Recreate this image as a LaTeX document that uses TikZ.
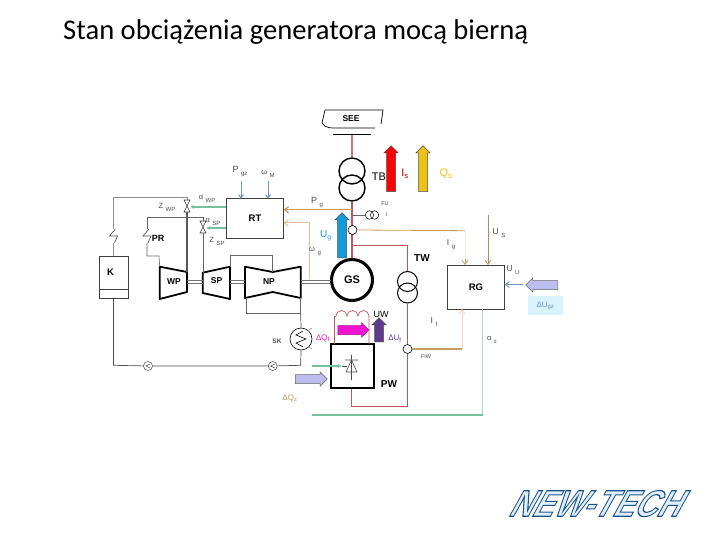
\documentclass[tikz,border=0pt]{standalone}
\usepackage{fontspec}
\setmainfont{Liberation Sans}
\newfontfamily\titlefont{Carlito}
\usetikzlibrary{shapes.arrows,arrows.meta}
\definecolor{tan}{HTML}{C89A62}
\definecolor{paletan}{HTML}{F0D9BC}
\definecolor{linered}{HTML}{C25555}
\definecolor{linegreen}{HTML}{74C29C}
\definecolor{lavender}{HTML}{BDBDEE}
\definecolor{steel}{HTML}{6F93C4}
\definecolor{fieldpink}{HTML}{F014D2}
\definecolor{fieldviolet}{HTML}{5F3A8C}
\definecolor{statorblue}{HTML}{149BD7}
\definecolor{netyellow}{HTML}{EEC214}
\newcommand{\lab}[2]{#1\hspace{2.5pt}\raisebox{-3pt}{\fontsize{6}{6}\selectfont #2}}
\tikzset{
  box/.style={draw, black!75, text=black, line width=1pt, font=\bfseries\fontsize{9.5}{10}\selectfont, inner sep=0pt},
  circ/.style={draw, black, circle, inner sep=0pt, line width=1.4pt},
  unitname/.style={font=\bfseries\fontsize{10}{11}\selectfont, inner sep=0pt},
  smalllab/.style={font=\fontsize{7.5}{8}\selectfont, black!70, inner sep=0pt},
  blockarrow/.style={single arrow, draw=black!70, line width=.5pt, inner sep=0pt, text width=0pt, text height=8.5pt, text depth=0pt, single arrow head extend=2.7pt},
  turbine/.style={draw, line width=1.8pt, fill=white, line join=round},
  valve/.pic={\draw[black!80, line width=.6pt] (-3,-6) -- (3,-6) -- (-3,6) -- (3,6) -- cycle;},
  gap/.pic={\draw[black!70, line width=.6pt] (2,-7) -- (-4,0) -- (4,0) -- (1,7);},
  pump/.pic={\draw[black!70, line width=.5pt] (0,0) circle (4.5); \draw[black!70, line width=.5pt] (2,-2) -- (-2,0) -- (2,2);}
}
\begin{document}
\begin{tikzpicture}[x=1pt,y=-1pt]
\useasboundingbox (0,0) rectangle (720,540);
\node[anchor=base west, inner sep=0pt, font=\titlefont\fontsize{28.6}{30}\selectfont] (title) at (63,40) {Stan obciążenia generatora mocą bierną};

% main blocks
\node[box, minimum width=56.6pt, minimum height=39pt] (RT) at (255,218.5) {RT};
\node[box, minimum width=56.6pt, minimum height=44pt] (RG) at (476,287) {RG};
\node[box, minimum width=29pt, minimum height=42pt] (K) at (113.5,277) {};
\node[unitname, font=\bfseries\fontsize{9.5}{10}\selectfont] (Kname) at (110.5,272.7) {K};
\node[box, black, line width=1.8pt, minimum width=43pt, minimum height=44pt] (PW) at (352.7,366) {};
\draw[black!75, line width=1pt] (K.west |- 0,289) -- (K.east |- 0,289);

% machines
\node[circ, line width=3pt, minimum size=41pt, font=\bfseries\fontsize{11}{12}\selectfont] (GS) at (352,280) {GS};
\node[circ, minimum size=26pt] (TBa) at (352,171) {};
\node[circ, minimum size=26pt] (TBb) at (352,188) {};
\node[circ, line width=1pt, minimum size=20pt] (TWa) at (407.5,281.5) {};
\node[circ, line width=1pt, minimum size=20pt] (TWb) at (407.5,293) {};
\node[unitname, font=\fontsize{11}{12}\selectfont] (TB) at (379,177) {TB};
\node[unitname] (TW) at (422,258) {TW};
\node[unitname] (PWname) at (389,384) {PW};
\node[unitname, font=\bfseries\fontsize{9}{10}\selectfont] (PR) at (158,238) {PR};
\node[font=\fontsize{9}{10}\selectfont, inner sep=0pt] (UW) at (381,314) {UW};
\node[smalllab, font=\bfseries\fontsize{6.5}{7}\selectfont] (SKname) at (277,341) {SK};

% turbines
\draw[turbine] (159.7,266.7) -- (187,272) -- (187,292) -- (159.7,299) -- cycle;
\draw[turbine] (202.7,272.7) -- (230,266.7) -- (230,299) -- (202.7,293) -- cycle;
\draw[turbine] (245,266.7) -- (272.7,272) -- (300.7,266.7) -- (300.7,298) -- (272.7,292) -- (245,298) -- cycle;
\node[unitname, font=\bfseries\fontsize{8.5}{9}\selectfont] (WP) at (174,282) {WP};
\node[unitname, font=\bfseries\fontsize{8.5}{9}\selectfont] (SP) at (216.5,281) {SP};
\node[unitname, font=\bfseries\fontsize{8.5}{9}\selectfont] (NP) at (269,282) {NP};
\coordinate (WPtop) at (187,272);
\coordinate (WPleft) at (159.7,266.7);
\coordinate (WPright) at (187,282);
\coordinate (SPleft) at (202.7,282);
\coordinate (SPtop) at (203,272.7);
\coordinate (SPright) at (230,282);
\coordinate (SPturn) at (230.5,267);
\coordinate (NPleft) at (245,282);
\coordinate (NPright) at (300.7,282);
\coordinate (NPmid) at (272.7,272);
\coordinate (NPout) at (300.7,298);
\coordinate (NPloop) at (246.7,298);
\coordinate (GSshaft) at (331,282);

% shafts
\foreach \off in {-1.5,1.5} {
  \draw[black!55, line width=.5pt] ([yshift=\off]WPright) -- ([yshift=\off]SPleft);
  \draw[black!55, line width=.5pt] ([yshift=\off]SPright) -- ([yshift=\off]NPleft);
  \draw[black!55, line width=.5pt] ([yshift=\off]NPright) -- ([yshift=\off]GSshaft);
}

% steam lines
\pic (valveWP) at (187,206) {valve};
\pic (valveSP) at (203,227) {valve};
\coordinate (WPvalve) at (187,212);
\coordinate (WPvalvetop) at (187,197);
\coordinate (SPvalve) at (203,233);
\coordinate (SPvalvetop) at (203,217);
\coordinate (Kgap) at (113.5,236);
\coordinate (PRgap) at (147,236);
\pic at (Kgap) {gap};
\pic at (PRgap) {gap};
\draw[black!45, line width=.6pt] (K.north -| Kgap) -- ([yshift=-7pt]Kgap);
\draw[black!45, line width=.6pt] ([yshift=7pt]Kgap) |- (WPvalvetop) -- (187,200);
\draw[black!65, line width=1.3pt] (WPvalve) -- (WPtop);
\draw[black!60, line width=.6pt] ([yshift=7pt]PRgap) |- (SPvalvetop) -- (203,221);
\draw[black!60, line width=.6pt] (SPvalve) -- (SPtop);
\draw[black!60, line width=.6pt] ([yshift=-7pt]PRgap) |- (159,256) -- (WPleft);
\draw[black!60, line width=.8pt] (SPturn) |- (272.7,255) -- (NPmid);
\draw[black!60, line width=.6pt] (NPloop) |- (300.7,313.7) -- (NPout);

% condenser and pumps
\node[draw, circle, inner sep=0pt, minimum size=22pt, line width=.6pt] (SK) at (301,339) {};
\draw[black, line width=.6pt] (303,331) -- (296,335) -- (306,339) -- (296,343) -- (303,347);
\draw[black!60, line width=.4pt] (309,330) -- (312,328) (309,347) -- (312,349);
\coordinate (PumpA) at (148,366);
\coordinate (PumpB) at (272.7,366);
\coordinate (Hot) at (300.7,365.3);
\draw[black!70, line width=.7pt] (300.7,313.7) -- (SK.north);
\draw[black!70, line width=.7pt] (SK.south) -- (Hot) -- (PumpB) -- (PumpA) -- (Kgap |- Hot) -- (K.south -| Kgap);
\fill[white] (PumpA) circle (4.5) (PumpB) circle (4.5);
\pic at (PumpA) {pump};
\pic at (PumpB) {pump};

% network
\draw[black, line width=.7pt] (325,110) -- (383,110) -- (381,124) (322,123) .. controls (325,129) and (333,128) .. (340,128) -- (375,128);
\draw[black, line width=.7pt] (325,110) -- (322,123);
\node[font=\bfseries\fontsize{8.5}{9}\selectfont, inner sep=0pt] (SEE) at (351,119) {SEE};
\coordinate (barL) at (333,134.6);
\coordinate (barR) at (371,134.6);
\coordinate (barM) at (352,134.6);
\draw[black, line width=1.8pt] (barL) -- (barR);
\draw[linered!80, line width=1.3pt] (barM) -- (TBa.north);
\draw[linered, line width=1.6pt] (TBb.south) -- (GS.north);

% excitation circuit
\coordinate (Tap) at (352,245);
\coordinate (LoopR) at (407.5,406);
\coordinate (LoopL) at (351.7,406);
\node[draw, circle, inner sep=0pt, minimum size=9pt, line width=.6pt, fill=white] (CTw) at (407.5,349) {};
\node[draw, circle, inner sep=0pt, minimum size=9pt, line width=.6pt, fill=white] (CTg) at (352.5,230) {};
\draw[linered, line width=.9pt] (Tap) -| (TWa.north);
\draw[linered, line width=.9pt] (TWb.south) -- (CTw.north);
\draw[linered, line width=.9pt] (CTw.south) -- (LoopR) -- (LoopL) -- (PW.south -| LoopL);
\draw[linered, line width=.7pt] (334,344) |- (336,316);
\draw[linered, line width=.7pt] (336,316) arc (180:360:5.5) arc (180:360:5.5) arc (180:360:5.5) -- (369,316) -- (369,344);

% thyristor
\draw[black!70, line width=.6pt] (351.5,355) -- (351.5,380) (345,360) -- (358,360) (351.5,360) -- (346,372) -- (357,372) -- cycle;
\draw[black!70, line width=.6pt] (342,366) -- (347,366);

% transducer FU
\node[draw, circle, inner sep=0pt, minimum size=8.5pt, line width=.5pt] (FUa) at (369.5,215) {};
\node[draw, circle, inner sep=0pt, minimum size=8.5pt, line width=.5pt] (FUb) at (374.5,215) {};
\coordinate (BusFU) at (352,215);
\draw[black!60, line width=.5pt] (BusFU) -- (FUa.west);

% signal lines
\coordinate (Pgtap) at (352,209.7);
\coordinate (Pgin) at (283.5,209.7);
\coordinate (omtap) at (309,279);
\coordinate (omcor) at (309,223);
\coordinate (omin) at (283.5,223);
\coordinate (Igturn) at (465,230.7);
\coordinate (Igin) at (465,265);
\coordinate (Ustop) at (488,215);
\coordinate (Usin) at (488,265);
\coordinate (Ifturn) at (462,349);
\coordinate (Ifin) at (462,309);
\coordinate (Gztop) at (482.6,309);
\coordinate (Gzbot) at (482.6,415);
\coordinate (Gzleft) at (312,415);
\coordinate (Thin) at (342,366);
\coordinate (Thleft) at (312,366);
\coordinate (Pztop) at (241,181);
\coordinate (Mtop) at (268,181);
\draw[tan, line width=1.3pt, -{Straight Barb[length=4pt,width=6pt]}] (Pgtap) -- (Pgin);
\draw[paletan!60!tan, line width=1pt, -{Straight Barb[length=4pt,width=6pt]}] (omtap) -- (omcor) -- (omin);
\draw[tan, line width=.8pt] (CTg.east) -- (Igturn);
\draw[paletan!50, line width=.6pt] (Igturn) -- ([yshift=6pt]Igin);
\draw[tan, line width=.8pt, -{Straight Barb[length=4pt,width=6pt]}] ([yshift=6pt]Igin) -- (Igin);
\draw[tan!90!black, line width=.8pt, -{Straight Barb[length=4pt,width=6pt]}] (Ustop) -- (Usin);
\draw[tan, line width=1.2pt] (CTw.east) -- (Ifturn);
\draw[paletan, line width=.9pt, -{Straight Barb[length=4pt,width=6pt]}] (Ifturn) -- (Ifin);
\draw[steel, line width=.8pt, -{Straight Barb[length=4pt,width=6pt]}] (523,284.5) -- (RG.east |- 0,284.5);
\draw[steel, line width=1pt, -{Straight Barb[length=3pt,width=5pt]}] (Pztop) -- (RT.north -| Pztop);
\draw[steel, line width=1pt, -{Straight Barb[length=3pt,width=5pt]}] (Mtop) -- (RT.north -| Mtop);
\draw[linegreen, line width=1.1pt, -{Latex[length=4pt,width=4pt]}] (RT.west |- 0,207) -- (190,207);
\draw[linegreen, line width=1.1pt, -{Latex[length=4pt,width=4pt]}] (RT.west |- 0,228) -- (206,228);
\draw[linegreen!60, line width=.8pt] (Gztop) -- (Gzbot);
\draw[linegreen, line width=1.4pt] (Gzbot) -- (Gzleft);
\draw[linegreen, line width=1.2pt, -{Latex[length=4pt,width=4pt]}] (Thleft) -- (Thin);

% block arrows
\node[blockarrow, fill=red, rotate=90, minimum height=46pt] (arrIs) at (391,171) {};
\node[blockarrow, fill=netyellow, rotate=90, minimum height=46pt] (arrQs) at (423,171) {};
\node[blockarrow, fill=statorblue, rotate=90, minimum height=45pt] (arrUg) at (342,237.5) {};
\node[blockarrow, fill=fieldpink, draw=fieldpink!70!black, minimum height=31pt] (arrQf) at (351,330) {};
\node[blockarrow, fill=fieldviolet, rotate=90, minimum height=24pt] (arrUf) at (379,332) {};
\node[blockarrow, fill=lavender, draw=black!60, minimum height=32pt] (arrQz) at (309,379) {};
\node[blockarrow, fill=lavender, draw=black!60, rotate=180, minimum height=32pt] (arrUz) at (544,285) {};
\node[fill=cyan!15, minimum width=35pt, minimum height=19pt, inner sep=0pt, font=\fontsize{8}{8}\selectfont, text=steel] (dUgz) at (545.5,305.5) {ΔU\textsubscript{gz}};

% labels
\node[smalllab, font=\fontsize{9}{9}\selectfont] (lPgz) at (240,172) {\lab{P}{gz}};
\node[smalllab] (lwM) at (268,174) {\lab{ω}{M}};
\node[smalllab] (laWP) at (207,199) {\lab{α}{WP}};
\node[smalllab] (lzWP) at (167,207) {\lab{Z}{WP}};
\node[smalllab] (laSP) at (213,222) {\lab{α}{SP}};
\node[smalllab] (lzSP) at (217,241) {\lab{Z}{SP}};
\node[smalllab, font=\fontsize{9}{9}\selectfont] (lPg) at (317,203) {\lab{P}{g}};
\node[smalllab] (lwg) at (315,252) {\lab{ω}{g}};
\node[smalllab, red!70!black, font=\fontsize{11}{11}\selectfont] (lIs) at (405,174) {I\textsubscript{s}};
\node[smalllab, netyellow, font=\fontsize{11}{11}\selectfont] (lQs) at (446,174) {Q\textsubscript{s}};
\node[smalllab, statorblue, font=\fontsize{10}{10}\selectfont] (lUg) at (326,236) {U\textsubscript{g}};
\node[smalllab, font=\fontsize{5.5}{6}\selectfont] (lFU) at (385,204) {FU};
\node[smalllab, font=\fontsize{5.5}{6}\selectfont] (lI) at (387,215) {I};
\node[smalllab, font=\fontsize{8.5}{9}\selectfont] (lIg) at (451,245) {\lab{I}{g}};
\node[smalllab, font=\fontsize{8.5}{9}\selectfont] (lUs) at (499,233) {\lab{U}{S}};
\node[smalllab, font=\fontsize{8.5}{9}\selectfont] (lUu) at (513,270) {\lab{U}{U}};
\node[smalllab, font=\fontsize{8.5}{9}\selectfont] (lIf) at (434,322) {\lab{I}{f}};
\node[smalllab, font=\fontsize{5.5}{6}\selectfont] (lFiw) at (426,357) {FIW};
\node[smalllab] (laz) at (492,340) {\lab{α}{z}};
\node[smalllab, fieldpink, font=\fontsize{8}{8}\selectfont] (ldQf) at (323,338) {ΔQ\textsubscript{f}};
\node[smalllab, fieldviolet, font=\fontsize{8}{8}\selectfont] (ldUf) at (395,339) {ΔU\textsubscript{f}};
\node[smalllab, tan, font=\fontsize{8}{8}\selectfont] (ldQz) at (290,398) {ΔQ\textsubscript{z}};

% logo
\node[inner sep=0pt, transform shape, xscale=.86, xslant=.65, font=\bfseries\fontsize{37}{37}\selectfont] (logo) at (600,503.5) {\special{pdf:code q 2 Tr 1.1 w .1 .32 .55 RG .88 .93 .98 rg}NEW-TECH\special{pdf:code 0 Tr 0 g 0 G Q}};
\end{tikzpicture}
\end{document}
